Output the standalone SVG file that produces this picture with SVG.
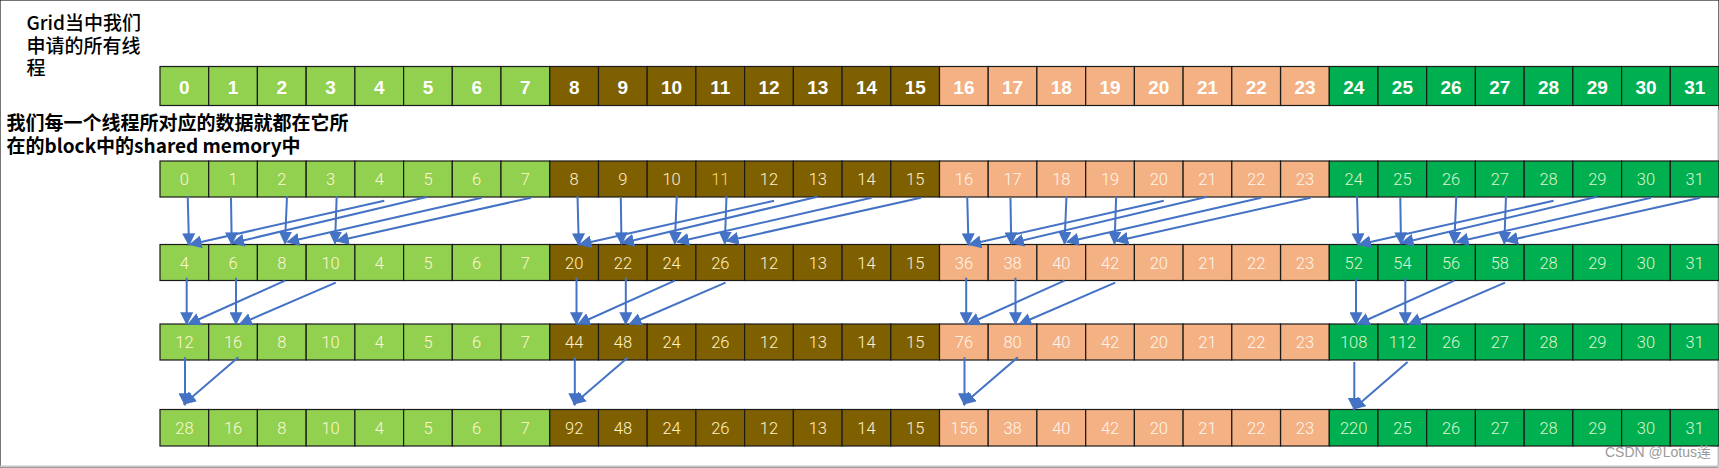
<svg xmlns="http://www.w3.org/2000/svg" width="1719" height="468" viewBox="0 0 1719 468">
<style>
rect.g1{fill:#92D050}
rect.br{fill:#7F6000}
rect.sa{fill:#F4B183}
rect.g2{fill:#00B050}
rect{stroke:#1a1a1a;stroke-width:1.2}
text{text-anchor:middle}
.t1{font-family:"Liberation Sans",Arial,sans-serif;font-weight:bold;font-size:19px;fill:#FFFFFF}
.t2{font-family:Roboto,"Liberation Sans",sans-serif;font-weight:300;font-size:16.5px}
.k0{fill:#FFF7D2}
.k1{fill:#FFF2CC}
.k2{fill:#FFF6EE}
.k3{fill:#DCF5CC}
.hl{fill:#FFD966}
.lbl{font-family:"Noto Sans CJK SC","Noto Sans",sans-serif;font-size:19px;fill:#000;text-anchor:start}
.conn line{stroke:#4472C4;stroke-width:2;marker-end:url(#ah)}
.wm{font-family:"Liberation Sans","Noto Sans CJK SC",sans-serif;font-size:14px;fill:#9a9a9a;text-anchor:start}
</style>
<defs>
<marker id="ah" viewBox="0 0 10 10" refX="9" refY="5" markerWidth="6.5" markerHeight="6.5" markerUnits="strokeWidth" orient="auto">
<path d="M0,0 L10,5 L0,10 z" fill="#4472C4"/>
</marker>
</defs>
<rect x="0" y="0" width="1719" height="468" fill="#FFFFFF" stroke="none"/>
<line x1="0" y1="466.5" x2="1719" y2="466.5" stroke="#c4c4c4" stroke-width="2"/>
<line x1="1718.2" y1="110" x2="1718.2" y2="468" stroke="#c4c4c4" stroke-width="1.5"/>

<g id="label-grid">
<text class="lbl" font-weight="500" x="26.5" y="30">Grid当中我们<tspan x="26.5" dy="22.5">申请的所有线</tspan><tspan x="26.5" dy="22">程</tspan></text>
</g>
<g id="label-shared">
<text class="lbl" font-weight="bold" x="6.5" y="130">我们每一个线程所对应的数据就都在它所<tspan x="6.5" dy="22.5">在的block中的shared memory中</tspan></text>
</g>

<g id="row-grid">
<g id="a0" transform="translate(160,66.5)"><rect class="g1" width="48.7" height="39"/><text class="t1" x="24.4" y="27">0</text></g>
<g id="a1" transform="translate(208.7,66.5)"><rect class="g1" width="48.7" height="39"/><text class="t1" x="24.4" y="27">1</text></g>
<g id="a2" transform="translate(257.4,66.5)"><rect class="g1" width="48.7" height="39"/><text class="t1" x="24.4" y="27">2</text></g>
<g id="a3" transform="translate(306.2,66.5)"><rect class="g1" width="48.7" height="39"/><text class="t1" x="24.4" y="27">3</text></g>
<g id="a4" transform="translate(354.9,66.5)"><rect class="g1" width="48.7" height="39"/><text class="t1" x="24.4" y="27">4</text></g>
<g id="a5" transform="translate(403.6,66.5)"><rect class="g1" width="48.7" height="39"/><text class="t1" x="24.4" y="27">5</text></g>
<g id="a6" transform="translate(452.3,66.5)"><rect class="g1" width="48.7" height="39"/><text class="t1" x="24.4" y="27">6</text></g>
<g id="a7" transform="translate(501,66.5)"><rect class="g1" width="48.7" height="39"/><text class="t1" x="24.4" y="27">7</text></g>
<g id="a8" transform="translate(549.8,66.5)"><rect class="br" width="48.7" height="39"/><text class="t1" x="24.4" y="27">8</text></g>
<g id="a9" transform="translate(598.5,66.5)"><rect class="br" width="48.7" height="39"/><text class="t1" x="24.4" y="27">9</text></g>
<g id="a10" transform="translate(647.2,66.5)"><rect class="br" width="48.7" height="39"/><text class="t1" x="24.4" y="27">10</text></g>
<g id="a11" transform="translate(695.9,66.5)"><rect class="br" width="48.7" height="39"/><text class="t1" x="24.4" y="27">11</text></g>
<g id="a12" transform="translate(744.6,66.5)"><rect class="br" width="48.7" height="39"/><text class="t1" x="24.4" y="27">12</text></g>
<g id="a13" transform="translate(793.4,66.5)"><rect class="br" width="48.7" height="39"/><text class="t1" x="24.4" y="27">13</text></g>
<g id="a14" transform="translate(842.1,66.5)"><rect class="br" width="48.7" height="39"/><text class="t1" x="24.4" y="27">14</text></g>
<g id="a15" transform="translate(890.8,66.5)"><rect class="br" width="48.7" height="39"/><text class="t1" x="24.4" y="27">15</text></g>
<g id="a16" transform="translate(939.5,66.5)"><rect class="sa" width="48.7" height="39"/><text class="t1" x="24.4" y="27">16</text></g>
<g id="a17" transform="translate(988.2,66.5)"><rect class="sa" width="48.7" height="39"/><text class="t1" x="24.4" y="27">17</text></g>
<g id="a18" transform="translate(1036.9,66.5)"><rect class="sa" width="48.7" height="39"/><text class="t1" x="24.4" y="27">18</text></g>
<g id="a19" transform="translate(1085.7,66.5)"><rect class="sa" width="48.7" height="39"/><text class="t1" x="24.4" y="27">19</text></g>
<g id="a20" transform="translate(1134.4,66.5)"><rect class="sa" width="48.7" height="39"/><text class="t1" x="24.4" y="27">20</text></g>
<g id="a21" transform="translate(1183.1,66.5)"><rect class="sa" width="48.7" height="39"/><text class="t1" x="24.4" y="27">21</text></g>
<g id="a22" transform="translate(1231.8,66.5)"><rect class="sa" width="48.7" height="39"/><text class="t1" x="24.4" y="27">22</text></g>
<g id="a23" transform="translate(1280.6,66.5)"><rect class="sa" width="48.7" height="39"/><text class="t1" x="24.4" y="27">23</text></g>
<g id="a24" transform="translate(1329.3,66.5)"><rect class="g2" width="48.7" height="39"/><text class="t1" x="24.4" y="27">24</text></g>
<g id="a25" transform="translate(1378,66.5)"><rect class="g2" width="48.7" height="39"/><text class="t1" x="24.4" y="27">25</text></g>
<g id="a26" transform="translate(1426.7,66.5)"><rect class="g2" width="48.7" height="39"/><text class="t1" x="24.4" y="27">26</text></g>
<g id="a27" transform="translate(1475.4,66.5)"><rect class="g2" width="48.7" height="39"/><text class="t1" x="24.4" y="27">27</text></g>
<g id="a28" transform="translate(1524.2,66.5)"><rect class="g2" width="48.7" height="39"/><text class="t1" x="24.4" y="27">28</text></g>
<g id="a29" transform="translate(1572.9,66.5)"><rect class="g2" width="48.7" height="39"/><text class="t1" x="24.4" y="27">29</text></g>
<g id="a30" transform="translate(1621.6,66.5)"><rect class="g2" width="48.7" height="39"/><text class="t1" x="24.4" y="27">30</text></g>
<g id="a31" transform="translate(1670.3,66.5)"><rect class="g2" width="48.7" height="39"/><text class="t1" x="24.4" y="27">31</text></g>
</g>

<g id="row-shared-1">
<g id="b0" transform="translate(160,161)"><rect class="g1" width="48.7" height="36"/><text class="t2 k0" x="24.4" y="24">0</text></g>
<g id="b1" transform="translate(208.7,161)"><rect class="g1" width="48.7" height="36"/><text class="t2 k0" x="24.4" y="24">1</text></g>
<g id="b2" transform="translate(257.4,161)"><rect class="g1" width="48.7" height="36"/><text class="t2 k0" x="24.4" y="24">2</text></g>
<g id="b3" transform="translate(306.2,161)"><rect class="g1" width="48.7" height="36"/><text class="t2 k0" x="24.4" y="24">3</text></g>
<g id="b4" transform="translate(354.9,161)"><rect class="g1" width="48.7" height="36"/><text class="t2 k0" x="24.4" y="24">4</text></g>
<g id="b5" transform="translate(403.6,161)"><rect class="g1" width="48.7" height="36"/><text class="t2 k0" x="24.4" y="24">5</text></g>
<g id="b6" transform="translate(452.3,161)"><rect class="g1" width="48.7" height="36"/><text class="t2 k0" x="24.4" y="24">6</text></g>
<g id="b7" transform="translate(501,161)"><rect class="g1" width="48.7" height="36"/><text class="t2 k0" x="24.4" y="24">7</text></g>
<g id="b8" transform="translate(549.8,161)"><rect class="br" width="48.7" height="36"/><text class="t2 k1" x="24.4" y="24">8</text></g>
<g id="b9" transform="translate(598.5,161)"><rect class="br" width="48.7" height="36"/><text class="t2 k1" x="24.4" y="24">9</text></g>
<g id="b10" transform="translate(647.2,161)"><rect class="br" width="48.7" height="36"/><text class="t2 k1" x="24.4" y="24">10</text></g>
<g id="b11" transform="translate(695.9,161)"><rect class="br" width="48.7" height="36"/><text class="t2 hl" x="24.4" y="24">11</text></g>
<g id="b12" transform="translate(744.6,161)"><rect class="br" width="48.7" height="36"/><text class="t2 k1" x="24.4" y="24">12</text></g>
<g id="b13" transform="translate(793.4,161)"><rect class="br" width="48.7" height="36"/><text class="t2 k1" x="24.4" y="24">13</text></g>
<g id="b14" transform="translate(842.1,161)"><rect class="br" width="48.7" height="36"/><text class="t2 k1" x="24.4" y="24">14</text></g>
<g id="b15" transform="translate(890.8,161)"><rect class="br" width="48.7" height="36"/><text class="t2 k1" x="24.4" y="24">15</text></g>
<g id="b16" transform="translate(939.5,161)"><rect class="sa" width="48.7" height="36"/><text class="t2 k2" x="24.4" y="24">16</text></g>
<g id="b17" transform="translate(988.2,161)"><rect class="sa" width="48.7" height="36"/><text class="t2 k2" x="24.4" y="24">17</text></g>
<g id="b18" transform="translate(1036.9,161)"><rect class="sa" width="48.7" height="36"/><text class="t2 k2" x="24.4" y="24">18</text></g>
<g id="b19" transform="translate(1085.7,161)"><rect class="sa" width="48.7" height="36"/><text class="t2 k2" x="24.4" y="24">19</text></g>
<g id="b20" transform="translate(1134.4,161)"><rect class="sa" width="48.7" height="36"/><text class="t2 k2" x="24.4" y="24">20</text></g>
<g id="b21" transform="translate(1183.1,161)"><rect class="sa" width="48.7" height="36"/><text class="t2 k2" x="24.4" y="24">21</text></g>
<g id="b22" transform="translate(1231.8,161)"><rect class="sa" width="48.7" height="36"/><text class="t2 k2" x="24.4" y="24">22</text></g>
<g id="b23" transform="translate(1280.6,161)"><rect class="sa" width="48.7" height="36"/><text class="t2 k2" x="24.4" y="24">23</text></g>
<g id="b24" transform="translate(1329.3,161)"><rect class="g2" width="48.7" height="36"/><text class="t2 k3" x="24.4" y="24">24</text></g>
<g id="b25" transform="translate(1378,161)"><rect class="g2" width="48.7" height="36"/><text class="t2 k3" x="24.4" y="24">25</text></g>
<g id="b26" transform="translate(1426.7,161)"><rect class="g2" width="48.7" height="36"/><text class="t2 k3" x="24.4" y="24">26</text></g>
<g id="b27" transform="translate(1475.4,161)"><rect class="g2" width="48.7" height="36"/><text class="t2 k3" x="24.4" y="24">27</text></g>
<g id="b28" transform="translate(1524.2,161)"><rect class="g2" width="48.7" height="36"/><text class="t2 k3" x="24.4" y="24">28</text></g>
<g id="b29" transform="translate(1572.9,161)"><rect class="g2" width="48.7" height="36"/><text class="t2 k3" x="24.4" y="24">29</text></g>
<g id="b30" transform="translate(1621.6,161)"><rect class="g2" width="48.7" height="36"/><text class="t2 k3" x="24.4" y="24">30</text></g>
<g id="b31" transform="translate(1670.3,161)"><rect class="g2" width="48.7" height="36"/><text class="t2 k3" x="24.4" y="24">31</text></g>
</g>

<g id="row-shared-2">
<g id="c0" transform="translate(160,244.5)"><rect class="g1" width="48.7" height="36"/><text class="t2 k0" x="24.4" y="24">4</text></g>
<g id="c1" transform="translate(208.7,244.5)"><rect class="g1" width="48.7" height="36"/><text class="t2 k0" x="24.4" y="24">6</text></g>
<g id="c2" transform="translate(257.4,244.5)"><rect class="g1" width="48.7" height="36"/><text class="t2 k0" x="24.4" y="24">8</text></g>
<g id="c3" transform="translate(306.2,244.5)"><rect class="g1" width="48.7" height="36"/><text class="t2 k0" x="24.4" y="24">10</text></g>
<g id="c4" transform="translate(354.9,244.5)"><rect class="g1" width="48.7" height="36"/><text class="t2 k0" x="24.4" y="24">4</text></g>
<g id="c5" transform="translate(403.6,244.5)"><rect class="g1" width="48.7" height="36"/><text class="t2 k0" x="24.4" y="24">5</text></g>
<g id="c6" transform="translate(452.3,244.5)"><rect class="g1" width="48.7" height="36"/><text class="t2 k0" x="24.4" y="24">6</text></g>
<g id="c7" transform="translate(501,244.5)"><rect class="g1" width="48.7" height="36"/><text class="t2 k0" x="24.4" y="24">7</text></g>
<g id="c8" transform="translate(549.8,244.5)"><rect class="br" width="48.7" height="36"/><text class="t2 k1" x="24.4" y="24">20</text></g>
<g id="c9" transform="translate(598.5,244.5)"><rect class="br" width="48.7" height="36"/><text class="t2 k1" x="24.4" y="24">22</text></g>
<g id="c10" transform="translate(647.2,244.5)"><rect class="br" width="48.7" height="36"/><text class="t2 k1" x="24.4" y="24">24</text></g>
<g id="c11" transform="translate(695.9,244.5)"><rect class="br" width="48.7" height="36"/><text class="t2 k1" x="24.4" y="24">26</text></g>
<g id="c12" transform="translate(744.6,244.5)"><rect class="br" width="48.7" height="36"/><text class="t2 k1" x="24.4" y="24">12</text></g>
<g id="c13" transform="translate(793.4,244.5)"><rect class="br" width="48.7" height="36"/><text class="t2 k1" x="24.4" y="24">13</text></g>
<g id="c14" transform="translate(842.1,244.5)"><rect class="br" width="48.7" height="36"/><text class="t2 k1" x="24.4" y="24">14</text></g>
<g id="c15" transform="translate(890.8,244.5)"><rect class="br" width="48.7" height="36"/><text class="t2 k1" x="24.4" y="24">15</text></g>
<g id="c16" transform="translate(939.5,244.5)"><rect class="sa" width="48.7" height="36"/><text class="t2 k2" x="24.4" y="24">36</text></g>
<g id="c17" transform="translate(988.2,244.5)"><rect class="sa" width="48.7" height="36"/><text class="t2 k2" x="24.4" y="24">38</text></g>
<g id="c18" transform="translate(1036.9,244.5)"><rect class="sa" width="48.7" height="36"/><text class="t2 k2" x="24.4" y="24">40</text></g>
<g id="c19" transform="translate(1085.7,244.5)"><rect class="sa" width="48.7" height="36"/><text class="t2 k2" x="24.4" y="24">42</text></g>
<g id="c20" transform="translate(1134.4,244.5)"><rect class="sa" width="48.7" height="36"/><text class="t2 k2" x="24.4" y="24">20</text></g>
<g id="c21" transform="translate(1183.1,244.5)"><rect class="sa" width="48.7" height="36"/><text class="t2 k2" x="24.4" y="24">21</text></g>
<g id="c22" transform="translate(1231.8,244.5)"><rect class="sa" width="48.7" height="36"/><text class="t2 k2" x="24.4" y="24">22</text></g>
<g id="c23" transform="translate(1280.6,244.5)"><rect class="sa" width="48.7" height="36"/><text class="t2 k2" x="24.4" y="24">23</text></g>
<g id="c24" transform="translate(1329.3,244.5)"><rect class="g2" width="48.7" height="36"/><text class="t2 k3" x="24.4" y="24">52</text></g>
<g id="c25" transform="translate(1378,244.5)"><rect class="g2" width="48.7" height="36"/><text class="t2 k3" x="24.4" y="24">54</text></g>
<g id="c26" transform="translate(1426.7,244.5)"><rect class="g2" width="48.7" height="36"/><text class="t2 k3" x="24.4" y="24">56</text></g>
<g id="c27" transform="translate(1475.4,244.5)"><rect class="g2" width="48.7" height="36"/><text class="t2 k3" x="24.4" y="24">58</text></g>
<g id="c28" transform="translate(1524.2,244.5)"><rect class="g2" width="48.7" height="36"/><text class="t2 k3" x="24.4" y="24">28</text></g>
<g id="c29" transform="translate(1572.9,244.5)"><rect class="g2" width="48.7" height="36"/><text class="t2 k3" x="24.4" y="24">29</text></g>
<g id="c30" transform="translate(1621.6,244.5)"><rect class="g2" width="48.7" height="36"/><text class="t2 k3" x="24.4" y="24">30</text></g>
<g id="c31" transform="translate(1670.3,244.5)"><rect class="g2" width="48.7" height="36"/><text class="t2 k3" x="24.4" y="24">31</text></g>
</g>

<g id="row-shared-3">
<g id="d0" transform="translate(160,324)"><rect class="g1" width="48.7" height="36"/><text class="t2 k0" x="24.4" y="24">12</text></g>
<g id="d1" transform="translate(208.7,324)"><rect class="g1" width="48.7" height="36"/><text class="t2 k0" x="24.4" y="24">16</text></g>
<g id="d2" transform="translate(257.4,324)"><rect class="g1" width="48.7" height="36"/><text class="t2 k0" x="24.4" y="24">8</text></g>
<g id="d3" transform="translate(306.2,324)"><rect class="g1" width="48.7" height="36"/><text class="t2 k0" x="24.4" y="24">10</text></g>
<g id="d4" transform="translate(354.9,324)"><rect class="g1" width="48.7" height="36"/><text class="t2 k0" x="24.4" y="24">4</text></g>
<g id="d5" transform="translate(403.6,324)"><rect class="g1" width="48.7" height="36"/><text class="t2 k0" x="24.4" y="24">5</text></g>
<g id="d6" transform="translate(452.3,324)"><rect class="g1" width="48.7" height="36"/><text class="t2 k0" x="24.4" y="24">6</text></g>
<g id="d7" transform="translate(501,324)"><rect class="g1" width="48.7" height="36"/><text class="t2 k0" x="24.4" y="24">7</text></g>
<g id="d8" transform="translate(549.8,324)"><rect class="br" width="48.7" height="36"/><text class="t2 k1" x="24.4" y="24">44</text></g>
<g id="d9" transform="translate(598.5,324)"><rect class="br" width="48.7" height="36"/><text class="t2 k1" x="24.4" y="24">48</text></g>
<g id="d10" transform="translate(647.2,324)"><rect class="br" width="48.7" height="36"/><text class="t2 k1" x="24.4" y="24">24</text></g>
<g id="d11" transform="translate(695.9,324)"><rect class="br" width="48.7" height="36"/><text class="t2 k1" x="24.4" y="24">26</text></g>
<g id="d12" transform="translate(744.6,324)"><rect class="br" width="48.7" height="36"/><text class="t2 k1" x="24.4" y="24">12</text></g>
<g id="d13" transform="translate(793.4,324)"><rect class="br" width="48.7" height="36"/><text class="t2 k1" x="24.4" y="24">13</text></g>
<g id="d14" transform="translate(842.1,324)"><rect class="br" width="48.7" height="36"/><text class="t2 k1" x="24.4" y="24">14</text></g>
<g id="d15" transform="translate(890.8,324)"><rect class="br" width="48.7" height="36"/><text class="t2 k1" x="24.4" y="24">15</text></g>
<g id="d16" transform="translate(939.5,324)"><rect class="sa" width="48.7" height="36"/><text class="t2 k2" x="24.4" y="24">76</text></g>
<g id="d17" transform="translate(988.2,324)"><rect class="sa" width="48.7" height="36"/><text class="t2 k2" x="24.4" y="24">80</text></g>
<g id="d18" transform="translate(1036.9,324)"><rect class="sa" width="48.7" height="36"/><text class="t2 k2" x="24.4" y="24">40</text></g>
<g id="d19" transform="translate(1085.7,324)"><rect class="sa" width="48.7" height="36"/><text class="t2 k2" x="24.4" y="24">42</text></g>
<g id="d20" transform="translate(1134.4,324)"><rect class="sa" width="48.7" height="36"/><text class="t2 k2" x="24.4" y="24">20</text></g>
<g id="d21" transform="translate(1183.1,324)"><rect class="sa" width="48.7" height="36"/><text class="t2 k2" x="24.4" y="24">21</text></g>
<g id="d22" transform="translate(1231.8,324)"><rect class="sa" width="48.7" height="36"/><text class="t2 k2" x="24.4" y="24">22</text></g>
<g id="d23" transform="translate(1280.6,324)"><rect class="sa" width="48.7" height="36"/><text class="t2 k2" x="24.4" y="24">23</text></g>
<g id="d24" transform="translate(1329.3,324)"><rect class="g2" width="48.7" height="36"/><text class="t2 k3" x="24.4" y="24">108</text></g>
<g id="d25" transform="translate(1378,324)"><rect class="g2" width="48.7" height="36"/><text class="t2 k3" x="24.4" y="24">112</text></g>
<g id="d26" transform="translate(1426.7,324)"><rect class="g2" width="48.7" height="36"/><text class="t2 k3" x="24.4" y="24">26</text></g>
<g id="d27" transform="translate(1475.4,324)"><rect class="g2" width="48.7" height="36"/><text class="t2 k3" x="24.4" y="24">27</text></g>
<g id="d28" transform="translate(1524.2,324)"><rect class="g2" width="48.7" height="36"/><text class="t2 k3" x="24.4" y="24">28</text></g>
<g id="d29" transform="translate(1572.9,324)"><rect class="g2" width="48.7" height="36"/><text class="t2 k3" x="24.4" y="24">29</text></g>
<g id="d30" transform="translate(1621.6,324)"><rect class="g2" width="48.7" height="36"/><text class="t2 k3" x="24.4" y="24">30</text></g>
<g id="d31" transform="translate(1670.3,324)"><rect class="g2" width="48.7" height="36"/><text class="t2 k3" x="24.4" y="24">31</text></g>
</g>

<g id="row-shared-4">
<g id="e0" transform="translate(160,409.5)"><rect class="g1" width="48.7" height="36.5"/><text class="t2 k0" x="24.4" y="24">28</text></g>
<g id="e1" transform="translate(208.7,409.5)"><rect class="g1" width="48.7" height="36.5"/><text class="t2 k0" x="24.4" y="24">16</text></g>
<g id="e2" transform="translate(257.4,409.5)"><rect class="g1" width="48.7" height="36.5"/><text class="t2 k0" x="24.4" y="24">8</text></g>
<g id="e3" transform="translate(306.2,409.5)"><rect class="g1" width="48.7" height="36.5"/><text class="t2 k0" x="24.4" y="24">10</text></g>
<g id="e4" transform="translate(354.9,409.5)"><rect class="g1" width="48.7" height="36.5"/><text class="t2 k0" x="24.4" y="24">4</text></g>
<g id="e5" transform="translate(403.6,409.5)"><rect class="g1" width="48.7" height="36.5"/><text class="t2 k0" x="24.4" y="24">5</text></g>
<g id="e6" transform="translate(452.3,409.5)"><rect class="g1" width="48.7" height="36.5"/><text class="t2 k0" x="24.4" y="24">6</text></g>
<g id="e7" transform="translate(501,409.5)"><rect class="g1" width="48.7" height="36.5"/><text class="t2 k0" x="24.4" y="24">7</text></g>
<g id="e8" transform="translate(549.8,409.5)"><rect class="br" width="48.7" height="36.5"/><text class="t2 k1" x="24.4" y="24">92</text></g>
<g id="e9" transform="translate(598.5,409.5)"><rect class="br" width="48.7" height="36.5"/><text class="t2 k1" x="24.4" y="24">48</text></g>
<g id="e10" transform="translate(647.2,409.5)"><rect class="br" width="48.7" height="36.5"/><text class="t2 k1" x="24.4" y="24">24</text></g>
<g id="e11" transform="translate(695.9,409.5)"><rect class="br" width="48.7" height="36.5"/><text class="t2 k1" x="24.4" y="24">26</text></g>
<g id="e12" transform="translate(744.6,409.5)"><rect class="br" width="48.7" height="36.5"/><text class="t2 k1" x="24.4" y="24">12</text></g>
<g id="e13" transform="translate(793.4,409.5)"><rect class="br" width="48.7" height="36.5"/><text class="t2 k1" x="24.4" y="24">13</text></g>
<g id="e14" transform="translate(842.1,409.5)"><rect class="br" width="48.7" height="36.5"/><text class="t2 k1" x="24.4" y="24">14</text></g>
<g id="e15" transform="translate(890.8,409.5)"><rect class="br" width="48.7" height="36.5"/><text class="t2 k1" x="24.4" y="24">15</text></g>
<g id="e16" transform="translate(939.5,409.5)"><rect class="sa" width="48.7" height="36.5"/><text class="t2 k2" x="24.4" y="24">156</text></g>
<g id="e17" transform="translate(988.2,409.5)"><rect class="sa" width="48.7" height="36.5"/><text class="t2 k2" x="24.4" y="24">38</text></g>
<g id="e18" transform="translate(1036.9,409.5)"><rect class="sa" width="48.7" height="36.5"/><text class="t2 k2" x="24.4" y="24">40</text></g>
<g id="e19" transform="translate(1085.7,409.5)"><rect class="sa" width="48.7" height="36.5"/><text class="t2 k2" x="24.4" y="24">42</text></g>
<g id="e20" transform="translate(1134.4,409.5)"><rect class="sa" width="48.7" height="36.5"/><text class="t2 k2" x="24.4" y="24">20</text></g>
<g id="e21" transform="translate(1183.1,409.5)"><rect class="sa" width="48.7" height="36.5"/><text class="t2 k2" x="24.4" y="24">21</text></g>
<g id="e22" transform="translate(1231.8,409.5)"><rect class="sa" width="48.7" height="36.5"/><text class="t2 k2" x="24.4" y="24">22</text></g>
<g id="e23" transform="translate(1280.6,409.5)"><rect class="sa" width="48.7" height="36.5"/><text class="t2 k2" x="24.4" y="24">23</text></g>
<g id="e24" transform="translate(1329.3,409.5)"><rect class="g2" width="48.7" height="36.5"/><text class="t2 k3" x="24.4" y="24">220</text></g>
<g id="e25" transform="translate(1378,409.5)"><rect class="g2" width="48.7" height="36.5"/><text class="t2 k3" x="24.4" y="24">25</text></g>
<g id="e26" transform="translate(1426.7,409.5)"><rect class="g2" width="48.7" height="36.5"/><text class="t2 k3" x="24.4" y="24">26</text></g>
<g id="e27" transform="translate(1475.4,409.5)"><rect class="g2" width="48.7" height="36.5"/><text class="t2 k3" x="24.4" y="24">27</text></g>
<g id="e28" transform="translate(1524.2,409.5)"><rect class="g2" width="48.7" height="36.5"/><text class="t2 k3" x="24.4" y="24">28</text></g>
<g id="e29" transform="translate(1572.9,409.5)"><rect class="g2" width="48.7" height="36.5"/><text class="t2 k3" x="24.4" y="24">29</text></g>
<g id="e30" transform="translate(1621.6,409.5)"><rect class="g2" width="48.7" height="36.5"/><text class="t2 k3" x="24.4" y="24">30</text></g>
<g id="e31" transform="translate(1670.3,409.5)"><rect class="g2" width="48.7" height="36.5"/><text class="t2 k3" x="24.4" y="24">31</text></g>
</g>

<g id="connectors" class="conn">
<line x1="187.7" y1="196" x2="189" y2="245"/>
<line x1="231" y1="198" x2="231.7" y2="244"/>
<line x1="287" y1="196" x2="285" y2="243.5"/>
<line x1="336.7" y1="196" x2="335" y2="243.5"/>
<line x1="384.3" y1="200.7" x2="190" y2="244.5"/>
<line x1="427.7" y1="196.7" x2="232.5" y2="243"/>
<line x1="481.7" y1="197.7" x2="287.5" y2="242"/>
<line x1="531" y1="197.7" x2="337" y2="241"/>
<line x1="186.7" y1="277.7" x2="186.7" y2="324"/>
<line x1="236" y1="277.7" x2="236" y2="324"/>
<line x1="285" y1="280.7" x2="188.5" y2="324"/>
<line x1="335.7" y1="282.7" x2="240" y2="324"/>
<line x1="185" y1="357.3" x2="185" y2="405"/>
<line x1="238.3" y1="357.3" x2="184" y2="404"/>

<line x1="577.5" y1="196" x2="578.8" y2="245"/>
<line x1="620.8" y1="198" x2="621.5" y2="244"/>
<line x1="676.8" y1="196" x2="674.8" y2="243.5"/>
<line x1="726.5" y1="196" x2="724.8" y2="243.5"/>
<line x1="774.1" y1="200.7" x2="579.8" y2="244.5"/>
<line x1="817.5" y1="196.7" x2="622.3" y2="243"/>
<line x1="871.5" y1="197.7" x2="677.3" y2="242"/>
<line x1="920.8" y1="197.7" x2="726.8" y2="241"/>
<line x1="576.5" y1="277.7" x2="576.5" y2="324"/>
<line x1="625.8" y1="277.7" x2="625.8" y2="324"/>
<line x1="674.8" y1="280.7" x2="578.3" y2="324"/>
<line x1="725.5" y1="282.7" x2="629.8" y2="324"/>
<line x1="574.8" y1="357.3" x2="574.8" y2="405"/>
<line x1="628.1" y1="357.3" x2="573.8" y2="404"/>

<line x1="967.2" y1="196" x2="968.5" y2="245"/>
<line x1="1010.5" y1="198" x2="1011.2" y2="244"/>
<line x1="1066.5" y1="196" x2="1064.5" y2="243.5"/>
<line x1="1116.2" y1="196" x2="1114.5" y2="243.5"/>
<line x1="1163.8" y1="200.7" x2="969.5" y2="244.5"/>
<line x1="1207.2" y1="196.7" x2="1012" y2="243"/>
<line x1="1261.2" y1="197.7" x2="1067" y2="242"/>
<line x1="1310.5" y1="197.7" x2="1116.5" y2="241"/>
<line x1="966.2" y1="277.7" x2="966.2" y2="324"/>
<line x1="1015.5" y1="277.7" x2="1015.5" y2="324"/>
<line x1="1064.5" y1="280.7" x2="968" y2="324"/>
<line x1="1115.2" y1="282.7" x2="1019.5" y2="324"/>
<line x1="964.5" y1="357.3" x2="964.5" y2="405"/>
<line x1="1017.8" y1="357.3" x2="963.5" y2="404"/>

<line x1="1357" y1="196" x2="1358.3" y2="245"/>
<line x1="1400.3" y1="198" x2="1401" y2="244"/>
<line x1="1456.3" y1="196" x2="1454.3" y2="243.5"/>
<line x1="1506" y1="196" x2="1504.3" y2="243.5"/>
<line x1="1553.6" y1="200.7" x2="1359.3" y2="244.5"/>
<line x1="1597" y1="196.7" x2="1401.8" y2="243"/>
<line x1="1651" y1="197.7" x2="1456.8" y2="242"/>
<line x1="1700.3" y1="197.7" x2="1506.3" y2="241"/>
<line x1="1356" y1="277.7" x2="1356" y2="324"/>
<line x1="1405.3" y1="277.7" x2="1405.3" y2="324"/>
<line x1="1454.3" y1="280.7" x2="1357.8" y2="324"/>
<line x1="1505" y1="282.7" x2="1409.3" y2="324"/>
<line x1="1354.3" y1="362" x2="1354.3" y2="409.5"/>
<line x1="1407.6" y1="362" x2="1353.3" y2="409"/>
</g>

<text class="wm" x="1605" y="457">CSDN @Lotus莲</text>
</svg>
